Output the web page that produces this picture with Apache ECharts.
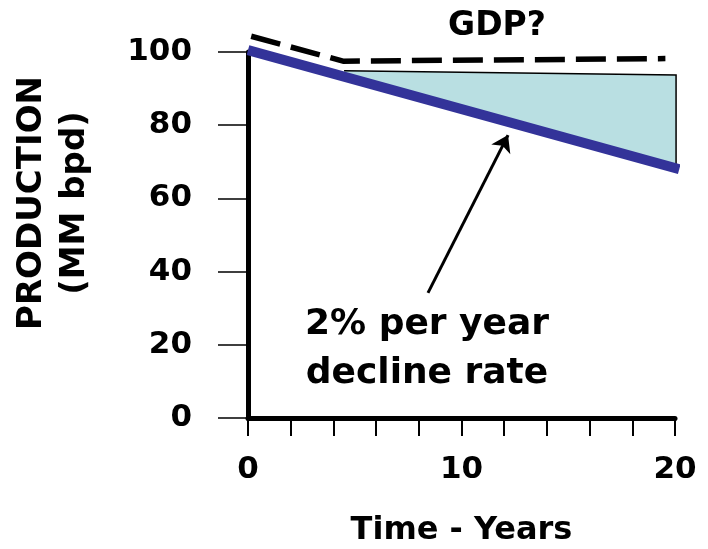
<html>
<head>
<meta charset="utf-8" />
<title>Production decline</title>
<script src="https://cdn.jsdelivr.net/npm/echarts@6/dist/echarts.min.js"></script>
<style type="text/css">
html, body { margin: 0; padding: 0; background: #fff; }
#echarts { width: 708px; height: 549px; }
</style>
</head>
<body>
<div id="echarts"></div>
<script type="text/javascript">

// 2% per year decline of production (MM bpd)
var production = [[0, 100.5], [20.2, 68]];
// GDP? dashed line
var gdp = [[0.15, 104.3], [4.45, 97.5], [19.55, 98.2]];
// shaded gap between demand and production (top-left, top-right, bottom-right, bottom-left)
var gapArea = [[4.5, 94.9], [20.05, 93.7], [20.05, 68.5], [4.5, 93]];
// arrow from the note to the decline line
var arrowFrom = [8.43, 34.2];
var arrowTo = [12.18, 77.3];
var xLabels = [0, 10, 20];

var font = '"DejaVu Sans", sans-serif';
var myChart = echarts.init(document.getElementById('echarts'));

function renderGap(params, api) {
    if (params.dataIndex !== 0) return;
    var pts = gapArea.map(function (p) { return api.coord(p); });
    return {
        type: 'group',
        children: [{
            type: 'polygon',
            shape: { points: pts },
            style: { fill: '#b9dfe2' }
        }, {
            // outline only on the top and right edges
            type: 'polyline',
            shape: { points: pts.slice(0, 3) },
            style: { fill: null, stroke: '#000', lineWidth: 1.5 }
        }]
    };
}

var option = {
    animation: false,
    grid: { left: 248, right: 33, top: 52, bottom: 131, containLabel: false, outerBoundsMode: 'none' },
    xAxis: {
        type: 'value',
        min: 0,
        max: 20,
        interval: 2,
        name: 'Time - Years',
        nameLocation: 'middle',
        nameGap: 97,
        nameTextStyle: { color: '#000', fontFamily: font, fontWeight: 'bold', fontSize: 32 },
        splitLine: { show: false },
        axisLine: { lineStyle: { color: '#000', width: 5 } },
        axisTick: { length: 18, lineStyle: { color: '#000', width: 2 } },
        axisLabel: {
            margin: 36,
            color: '#000',
            fontFamily: font,
            fontWeight: 'bold',
            fontSize: 31,
            formatter: function (v) { return xLabels.indexOf(v) >= 0 ? String(v) : ''; }
        }
    },
    yAxis: {
        type: 'value',
        min: 0,
        max: 100,
        interval: 20,
        splitLine: { show: false },
        axisLine: { lineStyle: { color: '#000', width: 5 } },
        axisTick: { length: 30, lineStyle: { color: '#000', width: 1.5 } },
        axisLabel: {
            margin: 56,
            color: '#000',
            fontFamily: font,
            fontWeight: 'bold',
            fontSize: 31
        }
    },
    graphic: [
        {
            type: 'text',
            x: 54, y: 203,
            rotation: Math.PI / 2,
            style: {
                text: 'PRODUCTION\n(MM bpd)',
                font: 'bold 34px ' + font,
                fill: '#000',
                align: 'center',
                verticalAlign: 'middle',
                lineHeight: 43
            }
        },
        {
            type: 'text',
            x: 497, y: 26,
            style: {
                text: 'GDP?',
                font: 'bold 33px ' + font,
                fill: '#000',
                align: 'center',
                verticalAlign: 'middle'
            }
        },
        {
            type: 'text',
            x: 427, y: 349,
            style: {
                text: '2% per year\ndecline rate',
                font: 'bold 36px ' + font,
                fill: '#000',
                align: 'center',
                verticalAlign: 'middle',
                lineHeight: 49
            }
        }
    ],
    series: [
        {
            type: 'custom',
            renderItem: renderGap,
            clip: false,
            silent: true,
            data: gapArea
        },
        {
            type: 'line',
            data: production,
            symbol: 'none',
            clip: false,
            silent: true,
            lineStyle: { color: '#333399', width: 10 },
            markLine: {
                silent: true,
                symbol: ['none', 'arrow'],
                symbolSize: 16,
                label: { show: false },
                lineStyle: { color: '#000', width: 3, type: 'solid' },
                data: [[{ coord: arrowFrom }, { coord: arrowTo }]]
            }
        },
        {
            type: 'line',
            data: gdp,
            symbol: 'none',
            clip: false,
            silent: true,
            lineStyle: { color: '#000', width: 5.5, type: [30, 11] }
        }
    ]
};

myChart.setOption(option);

</script>
</body>
</html>
